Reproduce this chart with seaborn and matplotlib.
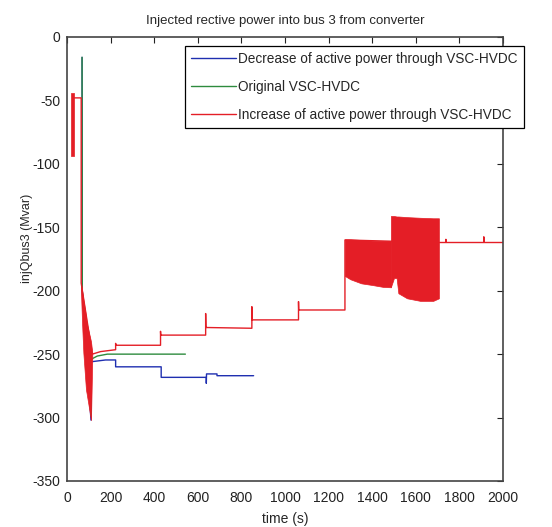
import numpy as np
import pandas as pd
import matplotlib
matplotlib.use('Agg')
import matplotlib.pyplot as plt
import seaborn as sns

# values (time in s, injected Q in Mvar)
blue_t = [69, 70, 110, 111, 177, 223, 223, 432, 432, 639, 639, 640, 688, 688, 856]
blue_q = [-16, -200, -302, -256, -254.6, -254.6, -260, -260, -268.3, -268.3, -273, -265.6, -265.6, -267, -267]

green_t = [69, 70, 110, 111, 139, 185, 543]
green_q = [-16, -200, -298, -254, -251.5, -250, -250]

red_t = [31, 65, 65, 116, 154, 223, 223, 224, 429, 429, 430, 636, 636, 637,
         848, 848, 849, 1062, 1062, 1063, 1275, 1275,
         1706, 1706, 1738, 1738, 1740, 1912, 1912, 1914, 2000]
red_q = [-48, -48, -194, -250, -248, -246.5, -241.5, -243, -243, -232, -235, -235, -218, -229,
         -229.6, -212.6, -223, -223, -208.6, -215.2, -215.2, -160,
         -162, -162, -162, -159.5, -162, -162, -157.5, -162, -162]

# red oscillation bands (upper / lower envelopes)
band0_t = [17, 31]
band0_hi = [-44, -44]
band0_lo = [-94, -94]

band1_t = [64, 69, 75, 87, 90, 110, 116]
band1_hi = [-194, -200, -207, -220, -225, -240, -249]
band1_lo = [-200, -225, -249, -278, -281, -302, -252]

band2_t = [1275, 1300, 1350, 1400, 1450, 1486]
band2_hi = [-159.5, -159.5, -160, -160.5, -160.7, -160.7]
band2_lo = [-188.4, -191, -194.2, -195.5, -197, -197.3]

band3_t = [1486, 1500, 1512, 1520, 1560, 1620, 1680, 1706]
band3_hi = [-141.1, -141.1, -141.5, -141.5, -142, -142.5, -142.9, -142.9]
band3_lo = [-197, -190, -190, -202, -206, -208, -208, -206]

labels = ['Decrease of active power through VSC-HVDC',
          'Original VSC-HVDC',
          'Increase of active power through VSC-HVDC']
colors = ['#1f2fb0', '#2e8b3e', '#e41e26']

sns.set_style('white')
plt.rcParams['font.family'] = ['Liberation Sans', 'DejaVu Sans']
plt.rcParams['axes.unicode_minus'] = False

fig = plt.figure(figsize=(5.52, 5.27), dpi=100)
ax = fig.add_axes([0.1214, 0.0873, 0.7898, 0.8425])

df_b = pd.DataFrame({'t': blue_t, 'q': blue_q})
df_g = pd.DataFrame({'t': green_t, 'q': green_q})
df_r = pd.DataFrame({'t': red_t, 'q': red_q})

sns.lineplot(data=df_b, x='t', y='q', ax=ax, sort=False, estimator=None,
             color=colors[0], lw=1.0, label=labels[0])
sns.lineplot(data=df_g, x='t', y='q', ax=ax, sort=False, estimator=None,
             color=colors[1], lw=1.0, label=labels[1])
sns.lineplot(data=df_r, x='t', y='q', ax=ax, sort=False, estimator=None,
             color=colors[2], lw=1.0, label=labels[2])

for bt, hi, lo in [(band0_t, band0_hi, band0_lo), (band1_t, band1_hi, band1_lo),
                   (band2_t, band2_hi, band2_lo), (band3_t, band3_hi, band3_lo)]:
    ax.fill_between(bt, lo, hi, color=colors[2], lw=0.5, zorder=3)

ax.set_xlim(0, 2000)
ax.set_ylim(-350, 0)
ax.set_xticks(np.arange(0, 2001, 200))
ax.set_yticks(np.arange(-350, 1, 50))
ax.tick_params(direction='in', length=4, width=0.8, top=True, right=True,
               labelsize=10, colors='#222222')
ax.tick_params(axis='x', pad=7)
ax.tick_params(axis='y', pad=5)
for s in ax.spines.values():
    s.set_color('#444444')
    s.set_linewidth(1.2)

ax.set_title('Injected rective power into bus 3 from converter', fontsize=9.5, pad=9)
ax.set_xlabel('time (s)', fontsize=10, labelpad=5)
ax.set_ylabel('injQbus3 (Mvar)', fontsize=9)
ax.yaxis.set_label_coords(-0.078, 0.547)

leg = ax.legend(loc='upper right', bbox_to_anchor=(0.949, 0.913),
                bbox_transform=fig.transFigure, frameon=True, fancybox=False,
                edgecolor='black', framealpha=1, fontsize=9.8, handlelength=3.3,
                handletextpad=0.15, labelspacing=1.02, borderpad=0.45,
                borderaxespad=0)
leg.get_frame().set_linewidth(0.9)

fig.savefig('out.png', dpi=100)
